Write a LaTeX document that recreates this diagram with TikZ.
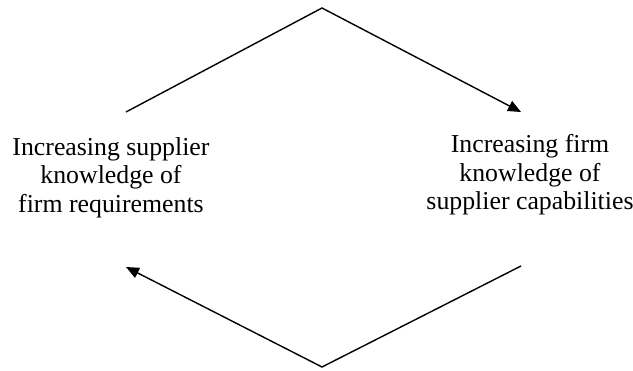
\documentclass[tikz,border=0pt]{standalone}
\usepackage{fontspec}
\setmainfont{Liberation Serif}
\usetikzlibrary{arrows.meta}
\begin{document}
\begin{tikzpicture}[x=1pt,y=-1pt,
  flow/.style={line width=1.4pt,-{Triangle[length=13pt,width=11pt]}},
  label/.style={align=center,font=\fontsize{25.8}{28.5}\selectfont,inner sep=0pt}]
  \useasboundingbox (0,0) rectangle (633,371);
  % cycle corners
  \coordinate (top) at (322,8);
  \coordinate (bot) at (322,367);
  \coordinate (lu) at (126,112);
  \coordinate (ru) at (521,112);
  \coordinate (rl) at (521,266);
  \coordinate (ll) at (126,267);
  % the two knowledge states
  \node[label] (supplier) at (111,177.5) {Increasing supplier\\knowledge of\\firm requirements};
  \node[label] (firm) at (530,175) {Increasing firm\\knowledge of\\supplier capabilities};
  % cycle arrows
  \draw[flow] (lu) -- (top) -- (ru);
  \draw[flow] (rl) -- (bot) -- (ll);
\end{tikzpicture}
\end{document}
